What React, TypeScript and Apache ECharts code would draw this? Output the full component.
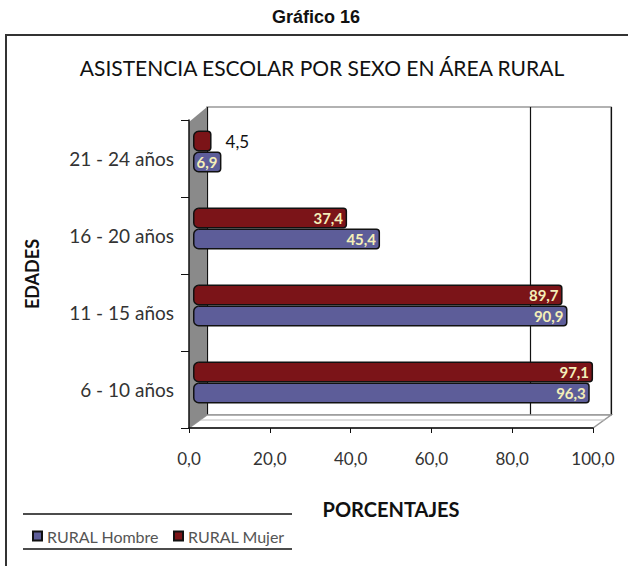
import React, { useEffect, useRef } from 'react';
import * as echarts from 'echarts';

const categories = ['6 - 10 años', '11 - 15 años', '16 - 20 años', '21 - 24 años'];
const hombre = [96.3, 90.9, 45.4, 6.9];
const mujer = [97.1, 89.7, 37.4, 4.5];
const seriesNames = ['RURAL Hombre', 'RURAL Mujer'];
const xMin = 0;
const xMax = 100;
const xStep = 20;
const gridMark = 80;

const fmt = (v: number) => v.toFixed(1).replace('.', ',');

export default function App() {
  const ref = useRef<HTMLDivElement>(null);
  useEffect(() => {
    const chart = echarts.init(ref.current!, null, { renderer: 'svg' });
    const labelBase = {
      show: true,
      position: 'insideRight',
      distance: 4,
      formatter: (p: any) => fmt(p.value),
      color: '#f4efb8',
      fontFamily: 'Lato',
      fontWeight: 'bold',
      fontSize: 15,
    };
    const toData = (arr: number[]) =>
      arr.map((v) =>
        v < 5
          ? { value: v, label: { position: 'right', color: '#111', fontWeight: 'normal', fontSize: 17, distance: 14 } }
          : v
      );
    chart.setOption({
      animation: false,
      backgroundColor: '#fff',
      grid: [
        { left: 207, right: 17, top: 107, bottom: 151, show: true, backgroundColor: '#fff', borderColor: '#999', borderWidth: 1.5 },
        { left: 189, right: 35, top: 120, bottom: 138 },
        { left: 193, right: 23, top: 113, bottom: 145 },
      ],
      xAxis: [
        {
          gridIndex: 0, type: 'value', min: xMin, max: xMax, interval: gridMark,
          axisLabel: { show: false }, axisLine: { show: false }, axisTick: { show: false },
          splitLine: { show: true, lineStyle: { color: '#111', width: 1.2 } },
        },
        {
          gridIndex: 1, type: 'value', min: xMin, max: xMax, interval: xStep,
          name: 'PORCENTAJES', nameLocation: 'middle', nameGap: 71,
          nameTextStyle: { fontFamily: 'Lato', fontWeight: 'bold', fontSize: 20, color: '#111' },
          axisLine: { show: true, lineStyle: { color: '#111', width: 1.5 } },
          axisTick: { show: true, length: 5, lineStyle: { color: '#111' } },
          axisLabel: { formatter: fmt, margin: 22, fontFamily: 'Lato', fontSize: 17, color: '#333' },
          splitLine: { show: false },
          z: 5,
        },
        { gridIndex: 2, type: 'value', min: xMin, max: xMax, show: false },
      ],
      yAxis: [
        { gridIndex: 0, type: 'category', data: categories, show: false },
        {
          gridIndex: 1, type: 'category', data: categories,
          name: 'EDADES', nameLocation: 'middle', nameGap: 148, nameRotate: 90,
          nameTextStyle: { fontFamily: 'Lato', fontWeight: 'bold', fontSize: 18, color: '#111' },
          axisLine: { show: true, lineStyle: { color: '#111', width: 1.5 } },
          axisTick: { show: true, length: 8, lineStyle: { color: '#111' } },
          axisLabel: { margin: 15, fontFamily: 'Lato', fontSize: 19, color: '#333' },
          z: 5,
        },
        { gridIndex: 2, type: 'category', data: categories, show: false },
      ],
      legend: {
        data: seriesNames,
        left: 27, top: 523,
        itemWidth: 9, itemHeight: 9, itemGap: 14,
        icon: 'rect',
        textStyle: { fontFamily: 'Lato', fontSize: 16, color: '#555' },
      },
      graphic: [
        { type: 'rect', z: 10, shape: { x: 6, y: 35, width: 640, height: 560 }, style: { fill: 'none', stroke: '#333', lineWidth: 2 } },
        { type: 'text', z: 10, x: 316, y: 8, style: { text: 'Gráfico 16', fontFamily: 'Liberation Sans', fontWeight: 'bold', fontSize: 18, fill: '#111', textAlign: 'center' } },
        { type: 'text', z: 10, x: 322, y: 57, style: { text: 'ASISTENCIA ESCOLAR POR SEXO EN ÁREA RURAL', fontFamily: 'Lato', fontSize: 21, fill: '#111', textAlign: 'center' } },
        { type: 'polygon', z: 1, shape: { points: [[189, 428], [207, 415], [611, 415], [593, 428]] }, style: { fill: '#fff', stroke: '#999', lineWidth: 1.5 } },
        { type: 'line', z: 1, shape: { x1: 200, y1: 420, x2: 605, y2: 420 }, style: { stroke: '#bbb', lineWidth: 1 } },
        { type: 'polygon', z: 1, shape: { points: [[189, 122], [207, 107], [207, 415], [189, 428]] }, style: { fill: '#8a8a8a' } },
        { type: 'line', z: 10, shape: { x1: 23, y1: 514, x2: 292, y2: 514 }, style: { stroke: '#111', lineWidth: 1.5 } },
        { type: 'line', z: 10, shape: { x1: 23, y1: 549, x2: 292, y2: 549 }, style: { stroke: '#111', lineWidth: 1.5 } },
      ],
      series: [
        {
          name: seriesNames[1], type: 'bar', xAxisIndex: 2, yAxisIndex: 2,
          data: toData(mujer), barWidth: 21, barGap: '0%', z: 4,
          itemStyle: { color: '#7b1418', borderColor: '#111', borderWidth: 1.5, borderRadius: [5, 3, 3, 5] },
          label: labelBase,
        },
        {
          name: seriesNames[0], type: 'bar', xAxisIndex: 2, yAxisIndex: 2,
          data: toData(hombre), barWidth: 21, barGap: '0%', z: 4,
          itemStyle: { color: '#5d5d99', borderColor: '#111', borderWidth: 1.5, borderRadius: [5, 3, 3, 5] },
          label: labelBase,
        },
      ],
    });
    return () => chart.dispose();
  }, []);
  return <div ref={ref} style={{ width: 628, height: 566, position: 'absolute', left: 0, top: 0 }} />;
}
